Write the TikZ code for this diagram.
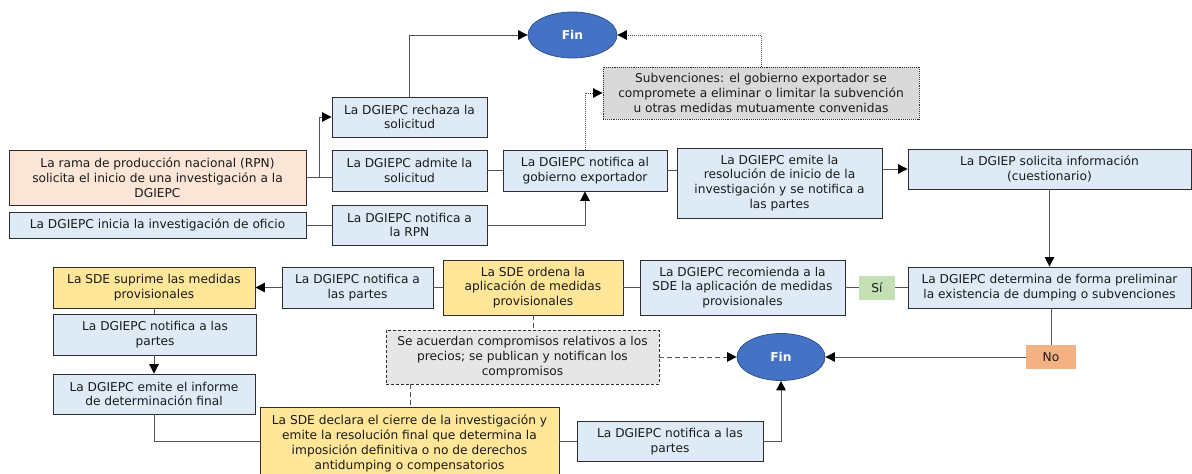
\documentclass[tikz,border=0pt]{standalone}
\usepackage{fontspec}
\setmainfont{DejaVu Sans}
\usetikzlibrary{arrows.meta,shapes.geometric}
\definecolor{bluebox}{HTML}{DEEBF7}
\definecolor{orangebox}{HTML}{FBE5D6}
\definecolor{yellowbox}{HTML}{FFE699}
\definecolor{graybox}{HTML}{D9D9D9}
\definecolor{lightgraybox}{HTML}{E7E6E6}
\definecolor{greenbox}{HTML}{C5E0B4}
\definecolor{nobox}{HTML}{F4B183}
\definecolor{finfill}{HTML}{4472C4}
\definecolor{finborder}{HTML}{2F528F}
\definecolor{txt}{HTML}{1A1A1A}
\definecolor{edge}{HTML}{2E2E2E}
\definecolor{linec}{HTML}{555555}
\tikzset{
  base/.style={align=center, inner sep=2pt, font=\fontsize{12.2}{14.8}\selectfont, text=txt},
  box/.style={base, draw=edge, line width=0.9pt, fill=bluebox},
  obox/.style={box, fill=orangebox},
  ybox/.style={box, fill=yellowbox},
  gbox/.style={box, fill=graybox, densely dotted},
  lgbox/.style={box, fill=lightgraybox, dash pattern=on 3pt off 2pt},
  tag/.style={base, fill=#1, draw=none},
  fin/.style={ellipse, draw=finborder, line width=0.8pt, fill=finfill, text=white, font=\fontsize{12.2}{14}\selectfont\bfseries, minimum width=89pt, minimum height=46pt, inner sep=0pt},
  conn/.style={draw=linec, line width=1pt},
  dotc/.style={conn, densely dotted},
  dashc/.style={conn, dash pattern=on 5pt off 3pt},
  arr/.style={-{Triangle[length=9.5pt,width=9.5pt,fill=black,color=black]}},
}
\begin{document}
\begin{tikzpicture}[x=1pt,y=-1pt]
\useasboundingbox (0,0) rectangle (1192,474);
% top section
\node[obox, minimum width=297pt, minimum height=55pt] (rpn) at (157.5,177.5) {La rama de producción nacional (RPN)\\solicita el inicio de una investigación a la\\DGIEPC};
\node[box, minimum width=297pt, minimum height=26pt] (oficio) at (157.5,225) {La DGIEPC inicia la investigación de oficio};
\node[box, minimum width=155pt, minimum height=40pt] (rechaza) at (409.5,117) {La DGIEPC rechaza la\\solicitud};
\node[box, minimum width=155pt, minimum height=41pt] (admite) at (409.5,170.5) {La DGIEPC admite la\\solicitud};
\node[box, minimum width=155pt, minimum height=40pt] (notrpn) at (409.5,225) {La DGIEPC notifica a\\la RPN};
\node[box, minimum width=164pt, minimum height=41pt] (gob) at (585,170.5) {La DGIEPC notifica al\\gobierno exportador};
\node[box, minimum width=205pt, minimum height=70pt] (emite) at (779.5,183) {La DGIEPC emite la\\resolución de inicio de la\\investigación y se notifica a\\las partes};
\node[box, minimum width=283pt, minimum height=40pt] (solicita) at (1049.5,169) {La DGIEP solicita información\\(cuestionario)};
\node[gbox, minimum width=316pt, minimum height=52pt] (subv) at (761,93) {Subvenciones: el gobierno exportador se\\compromete a eliminar o limitar la subvención\\u otras medidas mutuamente convenidas};
\node[fin] (fin1) at (572.5,35) {Fin};
% bottom section
\node[box, minimum width=283pt, minimum height=41pt] (determina) at (1049.5,287.5) {La DGIEPC determina de forma preliminar\\la existencia de dumping o subvenciones};
\node[tag=greenbox, minimum width=36pt, minimum height=24pt] (si) at (877,287.5) {Sí};
\node[box, minimum width=205pt, minimum height=55pt] (recomienda) at (742.5,287.5) {La DGIEPC recomienda a la\\SDE la aplicación de medidas\\provisionales};
\node[ybox, minimum width=180pt, minimum height=55pt] (ordena) at (533,287.5) {La SDE ordena la\\aplicación de medidas\\provisionales};
\node[box, minimum width=151pt, minimum height=41pt] (notp1) at (357.5,287.5) {La DGIEPC notifica a\\las partes};
\node[ybox, minimum width=202pt, minimum height=41pt] (suprime) at (154,287.5) {La SDE suprime las medidas\\provisionales};
\node[box, minimum width=203pt, minimum height=41pt] (notp2) at (155,334.5) {La DGIEPC notifica a las\\partes};
\node[box, minimum width=202pt, minimum height=40pt] (informe) at (154,394) {La DGIEPC emite el informe\\de determinación final};
\node[ybox, minimum width=299pt, minimum height=73pt] (declara) at (409.5,443.5) {La SDE declara el cierre de la investigación y\\emite la resolución final que determina la\\imposición definitiva o no de derechos\\antidumping o compensatorios};
\node[box, minimum width=186pt, minimum height=40pt] (notp3) at (670,441.5) {La DGIEPC notifica a las\\partes};
\node[fin, minimum width=88pt, minimum height=47pt] (fin2) at (781,357) {Fin};
\node[lgbox, minimum width=273pt, minimum height=54pt] (compro) at (522.5,357) {Se acuerdan compromisos relativos a los\\precios; se publican y notifican los\\compromisos};
\node[tag=nobox, minimum width=50pt, minimum height=24pt] (no) at (1051,357) {No};
% connectors top
\coordinate (b1) at (319,177.5);
\draw[conn] (rpn.east) -- (admite.west |- rpn.east);
\draw[conn,arr] (b1) |- (rechaza.west);
\draw[conn] (oficio.east) -- (notrpn.west);
\draw[conn,arr] (rechaza.north) |- (fin1.west);
\draw[conn] (admite.east) -- (gob.west);
\draw[conn,arr] (notrpn.east) -| (gob.south);
\draw[dotc,arr] (gob.north) |- (subv.west);
\draw[dotc,arr] (subv.north) |- (fin1.east);
\draw[conn] (gob.east) -- (emite.west |- gob.east);
\draw[conn,arr] (emite.east |- solicita.west) -- (solicita.west);
\draw[conn,arr] (solicita.south) -- (determina.north);
% connectors bottom
\draw[conn] (determina.west) -- (si.east);
\draw[conn] (si.west) -- (recomienda.east);
\draw[conn] (recomienda.west) -- (ordena.east);
\draw[conn] (ordena.west) -- (notp1.east);
\draw[conn,arr] (notp1.west) -- (suprime.east);
\draw[conn] (suprime.south) -- (suprime.south |- notp2.north);
\draw[conn,arr] (notp2.south -| informe.north) -- (informe.north);
\draw[conn] (informe.south) |- (declara.west |- notp3.west);
\draw[conn] (declara.east |- notp3.west) -- (notp3.west);
\draw[conn,arr] (notp3.east) -| (fin2.south);
\draw[dashc] (ordena.south) -- (compro.north -| ordena.south);
\draw[dashc,arr] (compro.east) -- (fin2.west);
\coordinate (c1) at (410,384);
\draw[dashc] (c1) -- (c1 |- declara.north);
\draw[conn] (determina.south -| no.north) -- (no.north);
\draw[conn,arr] (no.west) -- (fin2.east);
\end{tikzpicture}
\end{document}
